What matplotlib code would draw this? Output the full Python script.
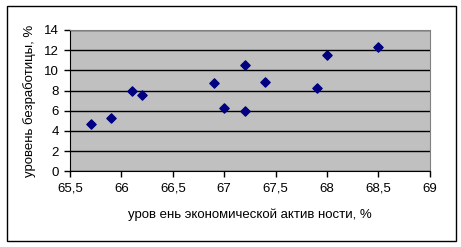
import matplotlib.pyplot as plt
from matplotlib.patches import Rectangle
from matplotlib.ticker import FuncFormatter

# activity rate (%) vs unemployment rate (%)
activity = [65.7, 65.9, 66.1, 66.2, 66.9, 67.0, 67.2, 67.2, 67.4, 67.9, 68.0, 68.5]
unemployment = [4.7, 5.3, 8.0, 7.6, 8.75, 6.3, 10.5, 5.95, 8.85, 8.25, 11.5, 12.35]

x_ticks = [65.5, 66, 66.5, 67, 67.5, 68, 68.5, 69]
y_ticks = [0, 2, 4, 6, 8, 10, 12, 14]

plt.rcParams['font.family'] = ['Liberation Sans', 'DejaVu Sans']
font_size = 9.5

fig = plt.figure(figsize=(4.61, 2.47), dpi=100)
ax = fig.add_axes([0.152, 0.306, 0.78, 0.573])

# outer chart frame
fig.patches.append(Rectangle((7 / 461, 6 / 247), 449 / 461, 235 / 247, transform=fig.transFigure,
                             fill=False, edgecolor='black', linewidth=1.0))

ax.set_facecolor('#c0c0c0')
ax.scatter(activity, unemployment, marker='D', s=22, color='#000080', zorder=3)

ax.set_xlim(65.5, 69)
ax.set_ylim(0, 14)
ax.set_xticks(x_ticks)
ax.set_yticks(y_ticks)
ax.xaxis.set_major_formatter(FuncFormatter(lambda v, pos: f"{v:g}".replace('.', ',')))
ax.grid(axis='y', color='black', linewidth=1.0, zorder=1)
ax.set_axisbelow(True)

for side in ['top', 'right']:
    ax.spines[side].set_color('#808080')
for side in ['left', 'bottom']:
    ax.spines[side].set_color('black')
ax.tick_params(direction='out', length=4, width=1, labelsize=font_size, pad=4)

ax.set_xlabel('уров ень экономической актив ности, %', fontsize=font_size, labelpad=10)
ax.set_ylabel('уровень безработицы, %', fontsize=font_size, labelpad=6)

plt.savefig('out.png', dpi=100)
